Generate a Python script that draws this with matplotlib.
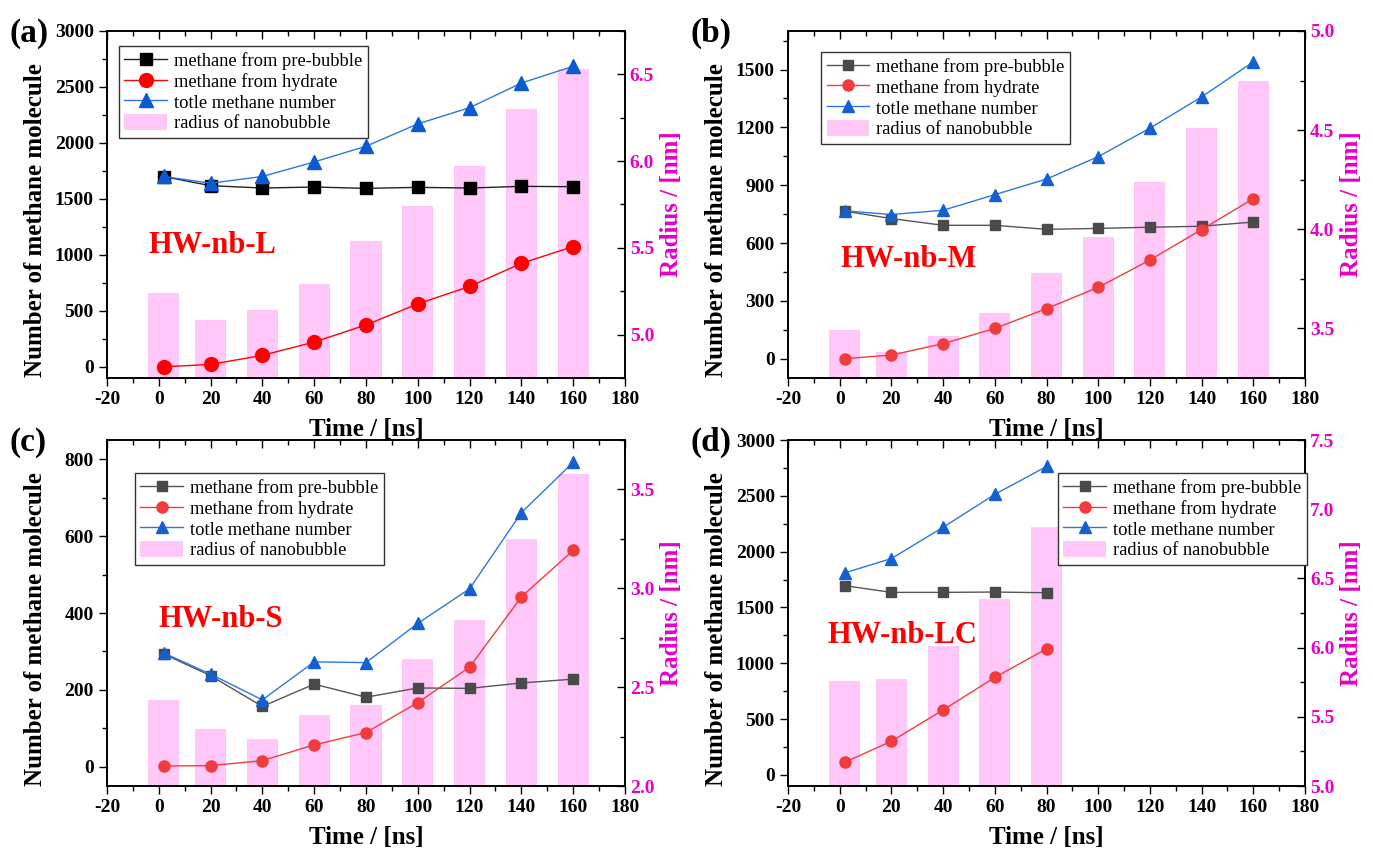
import matplotlib
matplotlib.use("Agg")
import matplotlib.pyplot as plt
from matplotlib.ticker import MultipleLocator, FormatStrFormatter

plt.rcParams['font.family'] = ['Liberation Serif', 'DejaVu Serif']
plt.rcParams['font.weight'] = 'bold'
plt.rcParams['axes.labelweight'] = 'bold'
plt.rcParams['axes.unicode_minus'] = False

# time points (ns)
time_full = [2, 20, 40, 60, 80, 100, 120, 140, 160]
time_lc = [2, 20, 40, 60, 80]

# (a) HW-nb-L
L_pre = [1699, 1618, 1597, 1606, 1594, 1603, 1597, 1612, 1609]
L_hyd = [0, 21, 102, 221, 374, 562, 718, 924, 1074]
L_tot = [1700, 1640, 1700, 1830, 1970, 2170, 2315, 2535, 2685]
L_rad = [5.24, 5.085, 5.14, 5.29, 5.54, 5.74, 5.97, 6.30, 6.53]

# (b) HW-nb-M
M_pre = [765, 727, 692, 692, 671, 676, 682, 687, 709]
M_hyd = [0, 19, 78, 157, 260, 370, 512, 670, 830]
M_tot = [767, 748, 770, 851, 932, 1048, 1196, 1358, 1540]
M_rad = [3.49, 3.38, 3.46, 3.58, 3.78, 3.96, 4.24, 4.51, 4.75]

# (c) HW-nb-S
S_pre = [293, 237, 157, 215, 181, 205, 204, 218, 228]
S_hyd = [2, 3, 16, 57, 89, 167, 259, 442, 563]
S_tot = [296, 241, 174, 273, 271, 373, 463, 661, 792]
S_rad = [2.436, 2.29, 2.24, 2.36, 2.41, 2.64, 2.84, 3.25, 3.58]

# (d) HW-nb-LC
LC_pre = [1695, 1635, 1635, 1638, 1632]
LC_hyd = [113, 301, 581, 873, 1129]
LC_tot = [1810, 1938, 2218, 2513, 2763]
LC_rad = [5.757, 5.77, 6.01, 6.35, 6.87]

labels = ['methane from pre-bubble', 'methane from hydrate',
          'totle methane number', 'radius of nanobubble']

PINK = '#ffc8f8'
MAG = '#e600c8'

fig = plt.figure(figsize=(13.73, 8.49), dpi=100)

panels = [
    # letter, name, pos, t, pre, hyd, tot, rad, ylim, ystep, y2lim, y2step, legend anchor, name xy, big markers
    ('(a)', 'HW-nb-L', [0.0779, 0.5548, 0.3773, 0.4087], time_full, L_pre, L_hyd, L_tot, L_rad,
     (-100, 3000), 500, (4.75, 6.75), 0.5, (0.023, 0.957), (-4, 1020), True),
    ('(b)', 'HW-nb-M', [0.5739, 0.5548, 0.3766, 0.4087], time_full, M_pre, M_hyd, M_tot, M_rad,
     (-100, 1700), 300, (3.25, 5.0), 0.5, (0.064, 0.94), (0.5, 476), False),
    ('(c)', 'HW-nb-S', [0.0779, 0.0742, 0.3773, 0.4075], time_full, S_pre, S_hyd, S_tot, S_rad,
     (-50, 850), 200, (2.0, 3.75), 0.5, (0.054, 0.905), (0, 363), False),
    ('(d)', 'HW-nb-LC', [0.5739, 0.0742, 0.3766, 0.4075], time_lc, LC_pre, LC_hyd, LC_tot, LC_rad,
     (-100, 3000), 500, (5.0, 7.5), 0.5, (0.522, 0.905), (-4.7, 1177), False),
]

for (letter, name, pos, t, pre, hyd, tot, rad, ylim, ystep, y2lim, y2step,
     leg_xy, name_xy, big) in panels:
    ax = fig.add_axes(pos)
    ax2 = ax.twinx()
    ax.set_zorder(ax2.get_zorder() + 1)
    ax.patch.set_visible(False)

    bars = ax2.bar(t, rad, width=12, color=PINK, zorder=1)
    ax2.set_ylim(y2lim)
    ax2.yaxis.set_major_locator(MultipleLocator(y2step))
    ax2.yaxis.set_minor_locator(MultipleLocator(y2step / 2))
    ax2.yaxis.set_major_formatter(FormatStrFormatter('%.1f'))
    ax2.tick_params(axis='y', which='both', direction='in', colors='black',
                    labelcolor=MAG, labelsize=14)
    ax2.tick_params(axis='y', which='major', length=6, width=1)
    ax2.tick_params(axis='y', which='minor', length=3.5, width=1)
    ax2.set_ylabel('Radius / [nm]', color=MAG, fontsize=18, fontweight='bold', labelpad=4)

    if big:
        c_pre, c_pre_line, c_hyd, c_tot, c_tot_line, ms = 'black', '#222222', '#ff0000', '#0a5ad2', '#2a78e0', 9
    else:
        c_pre, c_pre_line, c_hyd, c_tot, c_tot_line, ms = '#4a4a4a', '#555555', '#f03c3c', '#1560d0', '#2a78e0', 7

    l1, = ax.plot(t, pre, '-s', color=c_pre_line, mfc=c_pre, mec=c_pre, ms=ms, lw=1)
    l2, = ax.plot(t, hyd, '-o', color=c_hyd, mfc=c_hyd, mec=c_hyd, ms=ms + 1, lw=1)
    l3, = ax.plot(t, tot, '-^', color=c_tot_line, mfc=c_tot, mec=c_tot, ms=ms + 1, lw=1)

    ax.set_xlim(-20, 180)
    ax.set_ylim(ylim)
    ax.xaxis.set_major_locator(MultipleLocator(20))
    ax.xaxis.set_minor_locator(MultipleLocator(10))
    ax.yaxis.set_major_locator(MultipleLocator(ystep))
    ax.yaxis.set_minor_locator(MultipleLocator(ystep / 2))
    ax.tick_params(axis='both', which='both', direction='out', labelsize=14)
    ax.tick_params(axis='x', which='both', top=True)
    ax.tick_params(which='major', length=6, width=1)
    ax.tick_params(which='minor', length=3.5, width=1)
    # top ticks point inward
    for tk in ax.xaxis.get_major_ticks() + ax.xaxis.get_minor_ticks():
        tk.tick2line.set_marker(3)
    ax.set_xlabel('Time / [ns]', fontsize=18, fontweight='bold', labelpad=7)
    ax.set_ylabel('Number of methane molecule', fontsize=18, fontweight='bold')
    ax.yaxis.set_label_coords(-0.116, 0.455)

    for sp in list(ax.spines.values()) + list(ax2.spines.values()):
        sp.set_linewidth(1.2)

    leg = ax.legend([l1, l2, l3, bars], labels, loc='upper left', bbox_to_anchor=leg_xy,
                    borderaxespad=0, prop={'size': 13.3, 'weight': 'normal'},
                    labelspacing=0.12, handlelength=2.3, handleheight=1.0,
                    handletextpad=0.4, borderpad=0.3, fancybox=False,
                    framealpha=1, edgecolor='#333333')
    leg.get_frame().set_linewidth(1)

    ax.text(name_xy[0], name_xy[1], name, color='#ff0000', fontsize=22,
            fontweight='bold', ha='left', va='baseline')

    fig.text(pos[0] - 0.071, pos[1] + pos[3] - 0.003, letter, fontsize=24,
             fontweight='bold', ha='left', va='center')

fig.savefig('out.png', dpi=100)
